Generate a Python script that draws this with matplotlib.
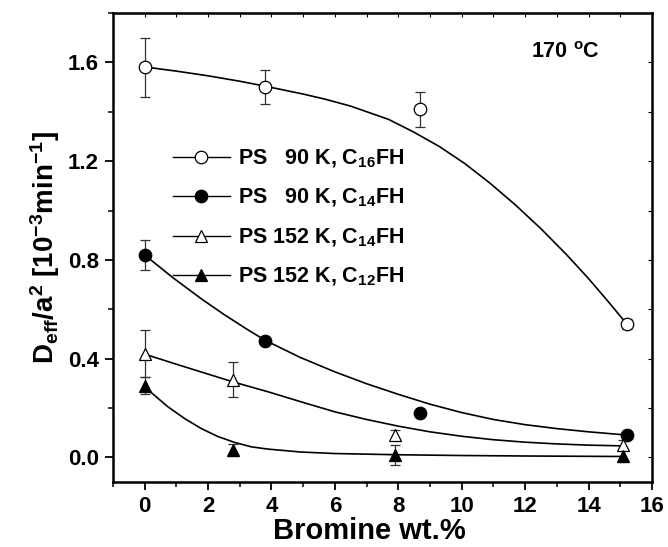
import numpy as np
import matplotlib
matplotlib.use("Agg")
import matplotlib.pyplot as plt
from matplotlib.lines import Line2D

plt.rcParams['font.family'] = ['Liberation Sans', 'DejaVu Sans']
plt.rcParams['font.weight'] = 'bold'
plt.rcParams['mathtext.fontset'] = 'custom'
plt.rcParams['mathtext.rm'] = 'Liberation Sans:bold'
plt.rcParams['mathtext.bf'] = 'Liberation Sans:bold'
plt.rcParams['mathtext.it'] = 'Liberation Sans:bold'
plt.rcParams['mathtext.default'] = 'bf'

# measured points (Bromine wt.% vs Deff/a^2)
x_s1 = [0, 3.8, 8.7, 15.2]
y_s1 = [1.58, 1.50, 1.41, 0.54]
e_s1 = [0.12, 0.07, 0.07, 0.02]

x_s2 = [0, 3.8, 8.7, 15.2]
y_s2 = [0.82, 0.47, 0.18, 0.09]
e_s2 = [0.06, 0.01, 0.01, 0.01]

x_s3 = [0, 2.8, 7.9, 15.1]
y_s3 = [0.42, 0.315, 0.09, 0.05]
e_s3 = [0.095, 0.07, 0.02, 0.02]

x_s4 = [0, 2.8, 7.9, 15.1]
y_s4 = [0.29, 0.03, 0.01, 0.005]
e_s4 = [0.035, 0.025, 0.04, 0.025]

# fitted curves
fit_x1 = [0, 1, 2, 3, 3.8, 5, 5.7, 6.5, 7.7, 8.5, 9.3, 10.1, 10.9, 11.7, 12.5, 13.3, 14.0, 14.6, 15.2]
fit_y1 = [1.582, 1.565, 1.546, 1.524, 1.504, 1.472, 1.451, 1.423, 1.369, 1.317, 1.259, 1.190,
          1.110, 1.022, 0.926, 0.822, 0.724, 0.634, 0.541]

fit_x2 = [0, 0.9, 1.8, 2.5, 3.2, 3.8, 4.9, 6.0, 7.0, 8.0, 9.0, 10.0, 11.0, 12.0, 13.0, 14.0, 15.2]
fit_y2 = [0.82, 0.727, 0.641, 0.579, 0.521, 0.474, 0.405, 0.346, 0.298, 0.255, 0.215, 0.181,
          0.153, 0.132, 0.116, 0.103, 0.090]

fit_x3 = [0, 1, 2, 2.8, 3.9, 5, 6, 7, 8, 9, 10, 11, 12, 13, 14, 15.1]
fit_y3 = [0.418, 0.377, 0.337, 0.305, 0.265, 0.222, 0.184, 0.153, 0.126, 0.103, 0.085, 0.071,
          0.061, 0.054, 0.049, 0.046]

fit_x4 = [0, 0.74, 1.26, 1.79, 2.31, 2.84, 3.37, 3.89, 4.94, 6.0, 8.0, 10, 12, 15.1]
fit_y4 = [0.285, 0.204, 0.157, 0.116, 0.084, 0.060, 0.042, 0.033, 0.021, 0.015, 0.010, 0.007,
          0.005, 0.003]

labels = ['PS   90 K, C$_{16}$FH', 'PS   90 K, C$_{14}$FH',
          'PS 152 K, C$_{14}$FH', 'PS 152 K, C$_{12}$FH']

fig = plt.figure(figsize=(6.68, 5.47), dpi=100)
ax = fig.add_axes([0.169, 0.119, 0.807, 0.857])

series = [
    (x_s1, y_s1, e_s1, fit_x1, fit_y1, 'o', 'white'),
    (x_s2, y_s2, e_s2, fit_x2, fit_y2, 'o', 'black'),
    (x_s3, y_s3, e_s3, fit_x3, fit_y3, '^', 'white'),
    (x_s4, y_s4, e_s4, fit_x4, fit_y4, '^', 'black'),
]

handles = []
for (xs, ys, es, fx, fy, mk, fc), lab in zip(series, labels):
    ax.plot(fx, fy, '-', color='black', lw=1.2, zorder=2)
    ax.errorbar(xs, ys, yerr=es, fmt='none', ecolor='#333333', elinewidth=0.9,
                capsize=3.5, capthick=0.9, zorder=3)
    ax.plot(xs, ys, linestyle='none', marker=mk, ms=9, mfc=fc, mec='black', mew=0.9, zorder=4)
    handles.append(Line2D([], [], color='black', lw=1.0, marker=mk, ms=9, mfc=fc,
                          mec='black', mew=0.9, label=lab))

ax.legend(handles=handles, loc='upper left', bbox_to_anchor=(0.111, 0.713), frameon=False,
          fontsize=15.5, handlelength=2.65, handletextpad=0.37, labelspacing=0.8,
          borderpad=0.0, borderaxespad=0.0)

ax.text(0.775, 0.905, '170 $^{o}$C', transform=ax.transAxes, fontsize=15.5, fontweight='bold')

ax.set_xlim(-1, 16)
ax.set_ylim(-0.1, 1.8)
ax.set_xticks(np.arange(0, 17, 2))
ax.set_xticks(np.arange(-1, 17, 1), minor=True)
ax.set_yticks([0.0, 0.4, 0.8, 1.2, 1.6])
ax.set_yticks(np.arange(0.0, 1.81, 0.2), minor=True)
ax.set_yticklabels(['0.0', '0.4', '0.8', '1.2', '1.6'])

ax.tick_params(which='major', direction='out', length=6, width=1.3, labelsize=16, pad=4)
ax.tick_params(which='minor', direction='out', length=3.5, width=1.1)
for s in ax.spines.values():
    s.set_linewidth(1.8)

# mirrored inward ticks on top and right
sec_x = ax.secondary_xaxis('top')
sec_x.set_xticks(np.arange(-1, 17, 1))
sec_x.tick_params(direction='in', length=3, width=0.8, labeltop=False)
sec_y = ax.secondary_yaxis('right')
sec_y.set_yticks(np.arange(0.0, 1.81, 0.2))
sec_y.tick_params(direction='in', length=3, width=0.8, labelright=False)

ax.set_xlabel('Bromine wt.%', fontsize=21, fontweight='bold')
ax.xaxis.set_label_coords(0.475, -0.075)
ax.set_ylabel('D$_{eff}$/a$^{2}$ [10$^{-3}$min$^{-1}$]', fontsize=20, fontweight='bold', labelpad=4)

fig.savefig('out.png', dpi=100)
